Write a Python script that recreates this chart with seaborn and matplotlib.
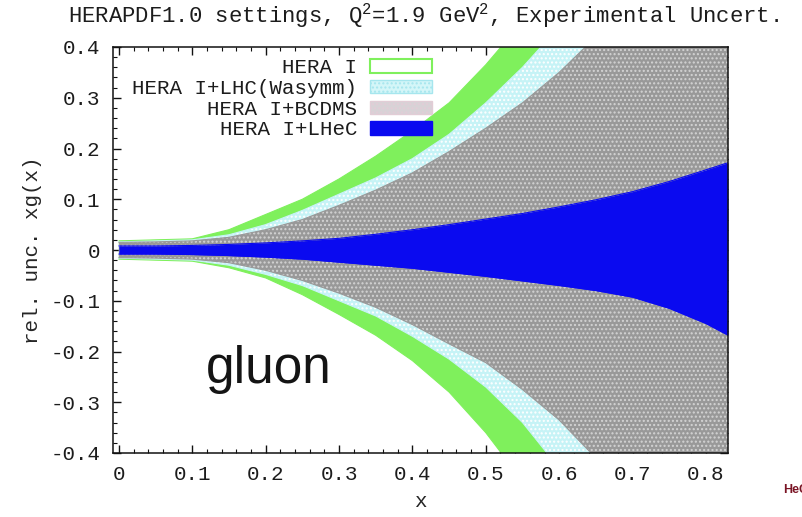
import matplotlib
matplotlib.use("Agg")
import matplotlib.pyplot as plt
from matplotlib.patches import Patch
from matplotlib.ticker import MultipleLocator
import pandas as pd
import seaborn as sns

# Relative experimental uncertainty on xg(x) at Q^2 = 1.9 GeV^2
x = [0.0, 0.05, 0.10, 0.15, 0.20, 0.25, 0.30, 0.35, 0.40, 0.45,
     0.50, 0.55, 0.60, 0.65, 0.70, 0.75, 0.80, 0.83]

hera_up = [0.018, 0.020, 0.022, 0.040, 0.070, 0.100, 0.140, 0.185, 0.235, 0.290,
           0.365, 0.450, 0.540, 0.630, 0.720, 0.810, 0.900, 0.950]
hera_lo = [-0.018, -0.020, -0.022, -0.035, -0.055, -0.088, -0.127, -0.168, -0.218, -0.280,
           -0.360, -0.455, -0.560, -0.660, -0.760, -0.860, -0.960, -1.000]

lhc_up = [0.016, 0.018, 0.020, 0.030, 0.050, 0.078, 0.110, 0.142, 0.180, 0.228,
          0.290, 0.360, 0.440, 0.520, 0.600, 0.680, 0.760, 0.800]
lhc_lo = [-0.016, -0.018, -0.020, -0.030, -0.048, -0.070, -0.100, -0.130, -0.170, -0.215,
          -0.270, -0.340, -0.430, -0.520, -0.610, -0.700, -0.790, -0.840]

bcdms_up = [0.015, 0.016, 0.018, 0.025, 0.040, 0.060, 0.088, 0.118, 0.152, 0.194,
            0.240, 0.290, 0.350, 0.420, 0.490, 0.570, 0.650, 0.700]
bcdms_lo = [-0.015, -0.016, -0.018, -0.025, -0.040, -0.060, -0.085, -0.113, -0.147, -0.185,
            -0.222, -0.275, -0.335, -0.410, -0.480, -0.560, -0.640, -0.690]

lhec_up = [0.008, 0.008, 0.009, 0.011, 0.014, 0.018, 0.023, 0.031, 0.040, 0.050,
           0.061, 0.072, 0.085, 0.099, 0.115, 0.135, 0.158, 0.172]
lhec_lo = [-0.008, -0.008, -0.009, -0.011, -0.014, -0.018, -0.024, -0.030, -0.036, -0.044,
           -0.052, -0.061, -0.070, -0.080, -0.093, -0.115, -0.145, -0.168]

series = ["HERA I", "HERA I+LHC(Wasymm)", "HERA I+BCDMS", "HERA I+LHeC"]

x_ticks = [0.0, 0.1, 0.2, 0.3, 0.4, 0.5, 0.6, 0.7, 0.8]
x_tick_labels = ["0", "0.1", "0.2", "0.3", "0.4", "0.5", "0.6", "0.7", "0.8"]
y_ticks = [-0.4, -0.3, -0.2, -0.1, 0.0, 0.1, 0.2, 0.3, 0.4]
y_tick_labels = ["-0.4", "-0.3", "-0.2", "-0.1", "0", "0.1", "0.2", "0.3", "0.4"]

bands = pd.DataFrame({
    "x": x,
    "HERA I_up": hera_up, "HERA I_lo": hera_lo,
    "HERA I+LHC(Wasymm)_up": lhc_up, "HERA I+LHC(Wasymm)_lo": lhc_lo,
    "HERA I+BCDMS_up": bcdms_up, "HERA I+BCDMS_lo": bcdms_lo,
    "HERA I+LHeC_up": lhec_up, "HERA I+LHeC_lo": lhec_lo,
})

styles = {
    "HERA I": dict(face="#7ff05c", hatch=None, hatch_col="#7ff05c"),
    "HERA I+LHC(Wasymm)": dict(face="#c6f3f6", hatch="....", hatch_col="#ffffff"),
    "HERA I+BCDMS": dict(face="#999999", hatch="....", hatch_col="#d4d4d4"),
    "HERA I+LHeC": dict(face="#0a0af0", hatch=None, hatch_col="#0a0af0"),
}

sns.set_theme(style="ticks")
mono = ["Liberation Mono", "DejaVu Sans Mono"]
plt.rcParams.update({
    "font.family": mono,
    "mathtext.fontset": "custom",
    "mathtext.rm": "Liberation Mono",
    "text.color": "#1c1c1c",
    "axes.edgecolor": "#111111",
    "axes.linewidth": 1.1,
    "hatch.linewidth": 1.0,
    "xtick.color": "#111111",
    "ytick.color": "#111111",
    "xtick.labelcolor": "#1c1c1c",
    "ytick.labelcolor": "#1c1c1c",
})

fig = plt.figure(figsize=(8.03, 5.17), dpi=100)
ax = fig.add_axes([113 / 803, 1 - 453 / 517, 615 / 803, 406 / 517])

for name in series:
    st = styles[name]
    ax.fill_between(bands["x"], bands[name + "_lo"], bands[name + "_up"],
                    facecolor=st["face"], edgecolor=st["hatch_col"],
                    hatch=st["hatch"], linewidth=0)
    for edge in ("_up", "_lo"):
        sns.lineplot(data=bands, x="x", y=name + edge, ax=ax,
                     color=st["face"], linewidth=0.8, legend=False)

ax.set_xlim(-0.008, 0.83)
ax.set_ylim(-0.4, 0.4)
ax.set_xticks(x_ticks, x_tick_labels)
ax.set_yticks(y_ticks, y_tick_labels)
ax.xaxis.set_minor_locator(MultipleLocator(0.02))
ax.yaxis.set_minor_locator(MultipleLocator(0.02))
ax.tick_params(which="both", direction="in", top=True, right=True, labelsize=15)
ax.tick_params(which="major", length=6, width=1.0)
ax.tick_params(which="minor", length=3, width=0.8)
ax.tick_params(axis="x", pad=9)
ax.tick_params(axis="y", pad=9)
for sp in ax.spines.values():
    sp.set_visible(True)
    sp.set_zorder(5)

ax.set_xlabel("x", fontsize=15)
ax.xaxis.set_label_coords(0.5, -0.097)
ax.set_ylabel("rel. unc. xg(x)", fontsize=15)
ax.yaxis.set_label_coords(-0.115, 0.5)

ax.text(0.118, -0.262, "gluon", family=["Liberation Sans", "DejaVu Sans"],
        fontsize=37, color="#141414", ha="left", va="baseline")

fig.text(424 / 803, 1 - 16 / 517,
         "HERAPDF1.0 settings, Q$^2$=1.9 GeV$^2$, Experimental Uncert.",
         fontsize=16, ha="center", va="center")

handles = [
    Patch(facecolor="white", edgecolor="#7ff05c", linewidth=1.5),
    Patch(facecolor="#d4f6f8", edgecolor="#a6e6ee", hatch="....", linewidth=1.0),
    Patch(facecolor="#d8d2d6", edgecolor="#e2cdd6", hatch="....", linewidth=1.0),
    Patch(facecolor="#0a0af0", edgecolor="#0a0af0", linewidth=1.0),
]
ax.legend(handles, series, loc="upper right", bbox_to_anchor=(0.519, 0.972),
          frameon=False, markerfirst=False, fontsize=15, borderpad=0,
          borderaxespad=0, handlelength=3.0, handleheight=0.6,
          handletextpad=0.6, labelspacing=0.08)

fig.text(783 / 803, 1 - 490 / 517, "HeC", family=["Liberation Sans", "DejaVu Sans"],
         fontsize=9, fontweight="bold", color="#7a1424", ha="left", va="center")

fig.savefig("out.png", dpi=100)
